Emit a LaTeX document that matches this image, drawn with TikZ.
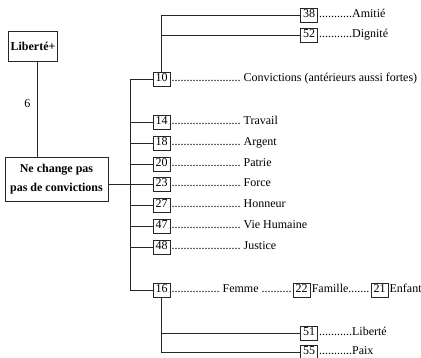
\documentclass[tikz,border=0pt]{standalone}
\usepackage{fontspec}
\setmainfont{Liberation Serif}
\usetikzlibrary{positioning}

\tikzset{
  numbox/.style={draw, inner sep=0pt, minimum width=17pt, minimum height=14pt,
    text height=8.5pt, text depth=2.5pt, font=\fontsize{12}{14}\selectfont},
  leader/.style={inner xsep=1pt, inner ysep=0pt, text height=8.5pt, text depth=2.5pt,
    font=\fontsize{12}{14}\selectfont},
  mainbox/.style={draw, inner sep=2pt, align=center, font=\bfseries\fontsize{12}{19}\selectfont}
}

\begin{document}
\begin{tikzpicture}[x=1pt, y=-1pt, line width=0.6pt, draw=black!85]
		\useasboundingbox (0,0) rectangle (421,358);
		%%%%%%%%%%%%%%%%% vertices %%%%%%%%%%%%%%%%%%%
		\node[mainbox, minimum width=49pt, minimum height=30pt] (lib) at (33,46) {Liberté+};
		\node[mainbox, minimum width=103pt, minimum height=44pt] (ncp) at (56.5,179)
		{Ne change pas\\pas de convictions};
		
		% number  y  label
		\foreach \num/\yy/\label in {10/79/{Convictions (antérieurs aussi fortes)},
			14/122/Travail,18/143/Argent,20/164/Patrie,23/184/Force,
			27/205/Honneur,47/226/Vie Humaine,48/247/Justice}
		{\node[numbox] (n\num) at (161.5,\yy) {\num};
			\node[leader, right=0pt of n\num] (t\num) {.......................\ \label};}
		
		% top and bottom boxes
		\foreach \num/\yy/\label in {38/15/Amitié,52/35/Dignité,51/333/Liberté,55/352/Paix}
		{\node[numbox] (n\num) at (309,\yy) {\num};
			\node[leader, right=0pt of n\num] (t\num) {...........\label};}
		
		% row 16
		\node[numbox] (n16) at (161.5,290) {16};
		\node[leader, right=0pt of n16] (t16) {................\ Femme\ ..........};
		\node[numbox, right=0pt of t16] (n22) {22};
		\node[leader, right=0pt of n22] (t22) {Famille.......};
		\node[numbox, right=0pt of t22] (n21) {21};
		\node[leader, right=0pt of n21] (t21) {Enfant};
		
		%%%%%%%%%%%%%%%%% edges %%%%%%%%%%%%%%%%%%%%%%%
		\draw ([xshift=4pt]lib.south) -- ([xshift=4pt]lib.south |- ncp.north)
		node[pos=0.44, left=3pt, font=\fontsize{12}{14}\selectfont] {6};
		
		\coordinate (tr) at (130,0);
		\draw (n10.west) -| (tr |- n16) -- (n16.west);
		\foreach \num in {14,18,20,23,27,47,48} {\draw (n\num.west) -- (n\num.west -| tr);}
		\draw (ncp.east |- n23) -- (n23.west -| tr);
		
		\draw (n10.north) |- (n38.west);
		\draw (n52.west) -- (n52.west -| n10.north);
		\draw (n16.south) |- (n55.west);
		\draw (n51.west) -- (n51.west -| n16.south);
	\end{tikzpicture}
\end{document}
